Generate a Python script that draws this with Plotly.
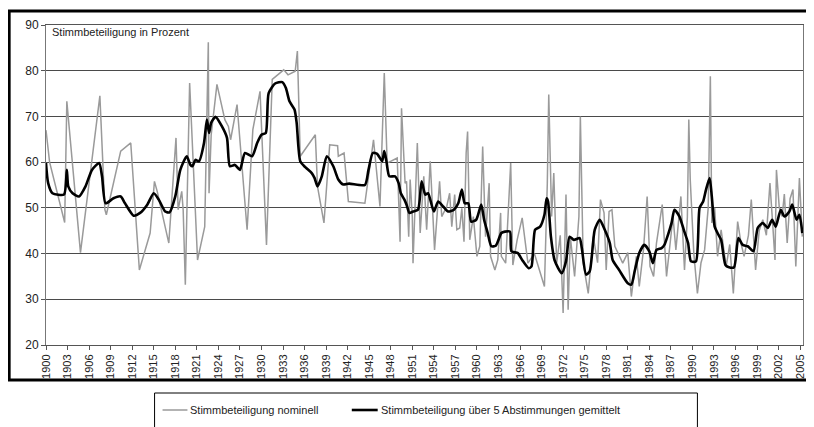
import plotly.graph_objects as go

# ---- data ----
nominal_years = [
    1900.0, 1900.15, 1900.5, 1902.6, 1902.9, 1904.8, 1907.5, 1908.2, 1908.4, 1910.4,
    1911.8, 1913.0, 1914.5, 1915.1, 1915.5, 1917.1, 1918.1, 1918.4, 1918.9, 1919.1,
    1919.4, 1920.0, 1921.1, 1922.1, 1922.4, 1922.6, 1922.7, 1922.9, 1923.0, 1923.8,
    1924.9, 1925.4, 1925.7, 1926.6, 1928.0, 1928.8, 1929.8, 1930.7, 1931.5, 1933.1,
    1933.7, 1934.7, 1935.0, 1935.4, 1937.5, 1937.8, 1938.7, 1939.5, 1940.6, 1940.7,
    1941.5, 1942.1, 1944.4, 1945.6, 1946.5, 1947.1, 1947.5, 1948.9, 1949.3, 1949.5,
    1950.0, 1950.2, 1950.5, 1950.7, 1951.0, 1951.1, 1951.7, 1952.1, 1952.6, 1953.0,
    1953.5, 1954.1, 1954.8, 1955.1, 1955.8, 1956.2, 1956.5, 1956.9, 1957.2, 1957.6,
    1957.9, 1958.2, 1958.5, 1958.7, 1959.0, 1959.5, 1960.0, 1960.4, 1960.8, 1961.2,
    1961.7, 1961.9, 1962.5, 1962.9, 1963.3, 1963.4, 1964.0, 1964.7, 1965.0, 1965.6,
    1966.3, 1967.1, 1968.0, 1969.4, 1969.8, 1970.0, 1970.4, 1970.7, 1971.1, 1971.6,
    1972.0, 1972.4, 1972.7, 1973.0, 1973.6, 1974.2, 1974.4, 1974.8, 1975.5, 1976.2,
    1976.8, 1977.2, 1977.7, 1978.0, 1978.4, 1978.8, 1979.2, 1980.3, 1981.0, 1981.5,
    1982.2, 1982.6, 1983.2, 1983.7, 1984.1, 1984.6, 1985.0, 1985.8, 1986.4, 1987.3,
    1987.7, 1988.4, 1988.9, 1989.3, 1989.5, 1989.7, 1990.2, 1990.7, 1991.2, 1991.7,
    1992.2, 1992.5, 1992.7, 1993.1, 1993.5, 1994.0, 1994.7, 1995.2, 1995.7, 1996.3,
    1996.8, 1997.2, 1997.8, 1998.2, 1998.8, 1999.3, 1999.8, 2000.3, 2000.8, 2001.2,
    2001.5, 2001.7, 2002.1, 2002.5, 2002.8, 2003.2, 2003.6, 2004.0, 2004.4, 2004.9,
    2005.1, 2005.3,
]
nominal_values = [
    67.0, 64.5, 60.0, 46.8, 73.3, 40.2, 74.5, 49.6, 48.5, 62.4,
    64.2, 36.4, 44.5, 55.8, 53.5, 42.3, 65.3, 49.6, 53.6, 49.5,
    33.2, 77.3, 38.6, 45.9, 70.4, 86.2, 53.2, 64.9, 66.0, 77.0,
    69.3, 67.8, 64.9, 72.6, 45.2, 67.1, 75.5, 41.9, 78.1, 80.2,
    79.1, 79.9, 84.3, 61.3, 66.0, 54.7, 46.7, 63.8, 63.6, 61.3,
    62.0, 51.4, 51.0, 64.9, 50.3, 79.5, 59.8, 60.9, 42.6, 71.8,
    55.4, 55.8, 43.7, 56.2, 48.1, 37.9, 64.2, 44.5, 56.9, 45.2,
    60.2, 40.8, 55.8, 48.1, 50.3, 53.2, 45.9, 52.9, 45.2, 45.6,
    49.9, 42.6, 62.0, 66.7, 43.0, 48.1, 39.4, 41.6, 63.4, 43.7,
    55.4, 39.4, 36.4, 38.6, 48.9, 39.4, 37.9, 59.8, 37.5, 43.0,
    47.8, 37.9, 40.0, 32.8, 55.4, 74.8, 48.1, 57.6, 37.9, 44.0,
    27.0, 52.9, 27.7, 43.7, 35.0, 48.1, 70.0, 37.9, 31.3, 43.7,
    38.0, 51.8, 48.9, 36.4, 49.2, 49.6, 41.6, 37.9, 40.2, 30.6,
    39.4, 32.8, 41.0, 52.5, 37.2, 35.0, 42.3, 50.7, 35.0, 48.1,
    40.8, 52.5, 36.4, 48.0, 69.3, 56.2, 40.0, 31.3, 38.0, 40.8,
    50.0, 78.8, 46.7, 50.0, 39.4, 45.2, 37.2, 42.0, 31.3, 47.0,
    42.0, 39.4, 44.0, 51.8, 36.4, 45.0, 47.4, 44.0, 55.4, 46.0,
    38.6, 58.3, 50.0, 48.1, 53.0, 42.3, 52.0, 54.0, 37.2, 56.5,
    50.0, 43.7,
]

avg_years = [
    1900.0, 1900.3, 1900.9, 1902.5, 1902.9, 1903.1, 1903.7, 1904.6, 1905.5, 1906.4,
    1907.4, 1907.8, 1908.3, 1909.4, 1910.4, 1911.0, 1912.2, 1913.1, 1914.1, 1915.0,
    1915.7, 1916.6, 1917.2, 1918.0, 1918.7, 1919.6, 1920.1, 1920.4, 1920.8, 1921.3,
    1922.0, 1922.4, 1922.7, 1923.0, 1923.6, 1924.5, 1925.2, 1925.6, 1926.3, 1927.0,
    1927.7, 1928.7, 1929.4, 1930.0, 1930.6, 1931.0, 1931.9, 1932.9, 1933.4, 1933.9,
    1934.6, 1934.9, 1935.4, 1936.1, 1937.0, 1937.4, 1937.8, 1938.4, 1939.1, 1940.0,
    1940.7, 1941.4, 1942.2, 1944.4, 1944.9, 1945.5, 1946.1, 1946.8, 1947.1, 1947.4,
    1947.8, 1948.6, 1949.1, 1949.4, 1949.9, 1950.2, 1950.6, 1951.1, 1951.8, 1952.3,
    1952.8, 1953.2, 1954.0, 1954.6, 1955.3, 1956.0, 1956.8, 1957.4, 1957.9, 1958.3,
    1958.8, 1959.2, 1959.9, 1960.6, 1961.0, 1961.5, 1962.0, 1962.6, 1963.0, 1963.4,
    1963.9, 1964.6, 1964.8, 1965.7, 1966.3, 1967.2, 1967.6, 1968.1, 1968.8, 1969.4,
    1969.7, 1969.9, 1970.3, 1970.8, 1971.8, 1972.4, 1972.9, 1973.5, 1974.3, 1974.6,
    1975.2, 1975.7, 1976.4, 1977.1, 1977.8, 1978.5, 1978.9, 1979.8, 1981.0, 1981.5,
    1982.0, 1982.6, 1983.3, 1984.0, 1984.5, 1985.0, 1985.7, 1986.1, 1986.6, 1987.1,
    1987.5, 1988.2, 1988.8, 1989.4, 1989.8, 1990.5, 1991.0, 1991.5, 1991.9, 1992.4,
    1992.7, 1993.1, 1993.5, 1994.0, 1994.6, 1995.1, 1995.8, 1996.4, 1997.0, 1997.7,
    1998.5, 1999.1, 1999.8, 2000.5, 2001.1, 2001.6, 2002.3, 2002.8, 2003.5, 2003.9,
    2004.5, 2004.9, 2005.3,
]
avg_values = [
    59.8, 55.4, 53.2, 52.9, 58.3, 54.7, 53.2, 52.5, 54.7, 58.3,
    59.8, 56.9, 51.0, 52.1, 52.5, 51.0, 48.3, 48.9, 50.7, 53.2,
    51.8, 49.2, 49.0, 52.5, 58.3, 61.3, 59.4, 59.1, 60.5, 60.2,
    64.2, 69.3, 66.4, 68.6, 69.9, 67.8, 65.3, 59.1, 59.4, 58.3,
    62.0, 61.3, 64.2, 66.0, 66.4, 75.1, 77.2, 77.5, 76.2, 73.3,
    71.5, 68.6, 60.2, 58.9, 57.6, 56.5, 54.7, 56.9, 61.3, 59.1,
    56.2, 55.1, 55.3, 55.0, 58.3, 62.0, 61.8, 60.2, 62.4, 60.2,
    56.9, 56.9, 55.4, 53.2, 51.8, 50.7, 48.9, 49.2, 49.6, 55.8,
    52.9, 53.2, 49.2, 51.4, 50.3, 49.2, 49.6, 51.0, 54.0, 51.0,
    51.0, 47.0, 47.4, 50.7, 47.4, 44.5, 41.6, 41.7, 43.0, 44.5,
    44.8, 44.8, 40.5, 40.1, 38.6, 36.8, 37.2, 45.2, 45.9, 48.5,
    52.1, 51.4, 43.7, 38.6, 35.7, 38.3, 43.7, 43.0, 43.4, 41.2,
    35.4, 36.1, 45.2, 47.4, 45.2, 42.3, 38.6, 36.4, 33.5, 33.2,
    36.4, 40.1, 41.9, 40.5, 37.9, 40.8, 41.2, 41.9, 44.1, 46.7,
    49.6, 48.1, 45.2, 42.3, 38.3, 38.3, 50.0, 51.4, 54.0, 56.5,
    52.5, 45.9, 44.5, 43.0, 37.5, 37.0, 37.0, 43.4, 41.9, 41.6,
    40.5, 45.6, 46.7, 45.6, 47.4, 45.9, 49.6, 48.1, 49.2, 50.7,
    47.4, 48.5, 44.5,
]

y_ticks = [20, 30, 40, 50, 60, 70, 80, 90]
x_tick_years = list(range(1900, 2006, 3))

title_text = "Stimmbeteiligung in Prozent"
name_nominal = "Stimmbeteiligung nominell"
name_avg = "Stimmbeteiligung über 5 Abstimmungen gemittelt"

# ---- geometry (page pixels; page body has an 8px margin) ----
OFF = 8
PAGE_W, PAGE_H = 814, 427
W, H = PAGE_W - OFF, PAGE_H - OFF
PL, PR, PT, PB = 46, 806, 25, 345          # plot area edges in page pixels
L, R, T, B = PL - OFF, W - (PR - OFF), PT - OFF, H - (PB - OFF)
pw, ph = W - L - R, H - T - B

def px(x):
    return (x - OFF - L) / pw

def py(y):
    return (H - B - (y - OFF)) / ph

fig = go.Figure()
fig.add_trace(go.Scatter(x=nominal_years, y=nominal_values, mode="lines",
                         line=dict(color="#9a9a9a", width=1.5),
                         name=name_nominal, showlegend=False))
fig.add_trace(go.Scatter(x=avg_years, y=avg_values, mode="lines",
                         line=dict(color="#000000", width=2.6, shape="spline", smoothing=0.6),
                         name=name_avg, showlegend=False))

font = "Liberation Sans, Arial, sans-serif"

fig.update_layout(
    width=W, height=H,
    margin=dict(l=L, r=R, t=T, b=B, pad=0),
    paper_bgcolor="white", plot_bgcolor="white",
    font=dict(family=font, size=11, color="#222222"),
    xaxis=dict(range=[1900, 2005.4], tickmode="array", tickvals=x_tick_years,
               ticktext=[str(v) for v in x_tick_years], tickangle=-90,
               ticks="outside", ticklen=4, tickcolor="#555555",
               showgrid=False, showline=True, linecolor="#555555", linewidth=1,
               mirror=True, zeroline=False, tickfont=dict(size=11, color="#222222")),
    yaxis=dict(range=[20, 90], tickmode="array", tickvals=y_ticks,
               ticks="outside", ticklen=4, tickcolor="#555555",
               showgrid=True, gridcolor="#4a4a4a", gridwidth=1,
               showline=True, linecolor="#777777", linewidth=1, mirror=True,
               zeroline=False, tickfont=dict(size=12, color="#222222")),
    showlegend=False,
)

shapes = [
    # outer thick frame
    dict(type="rect", xref="paper", yref="paper",
         x0=px(9), x1=px(811), y0=py(380), y1=py(11),
         line=dict(color="black", width=3), fillcolor="rgba(0,0,0,0)", layer="below"),
    # legend box
    dict(type="rect", xref="paper", yref="paper",
         x0=px(155), x1=px(700), y0=py(432), y1=py(393),
         line=dict(color="black", width=1), fillcolor="rgba(0,0,0,0)"),
    dict(type="line", xref="paper", yref="paper",
         x0=px(163), x1=px(188), y0=py(410), y1=py(410),
         line=dict(color="#9a9a9a", width=1.5)),
    dict(type="line", xref="paper", yref="paper",
         x0=px(353), x1=px(379), y0=py(410), y1=py(410),
         line=dict(color="black", width=2.6)),
]
fig.update_layout(shapes=shapes)

annotations = [
    dict(text=title_text, xref="paper", yref="paper", x=px(50), y=py(32),
         xanchor="left", yanchor="middle", showarrow=False,
         font=dict(size=11, color="#222222", family=font)),
    dict(text=name_nominal, xref="paper", yref="paper", x=px(189), y=py(410),
         xanchor="left", yanchor="middle", showarrow=False,
         font=dict(size=11, color="#222222", family=font)),
    dict(text=name_avg, xref="paper", yref="paper", x=px(380), y=py(410),
         xanchor="left", yanchor="middle", showarrow=False,
         font=dict(size=11, color="#222222", family=font)),
]
fig.update_layout(annotations=annotations)

fig.write_html("out.html")
